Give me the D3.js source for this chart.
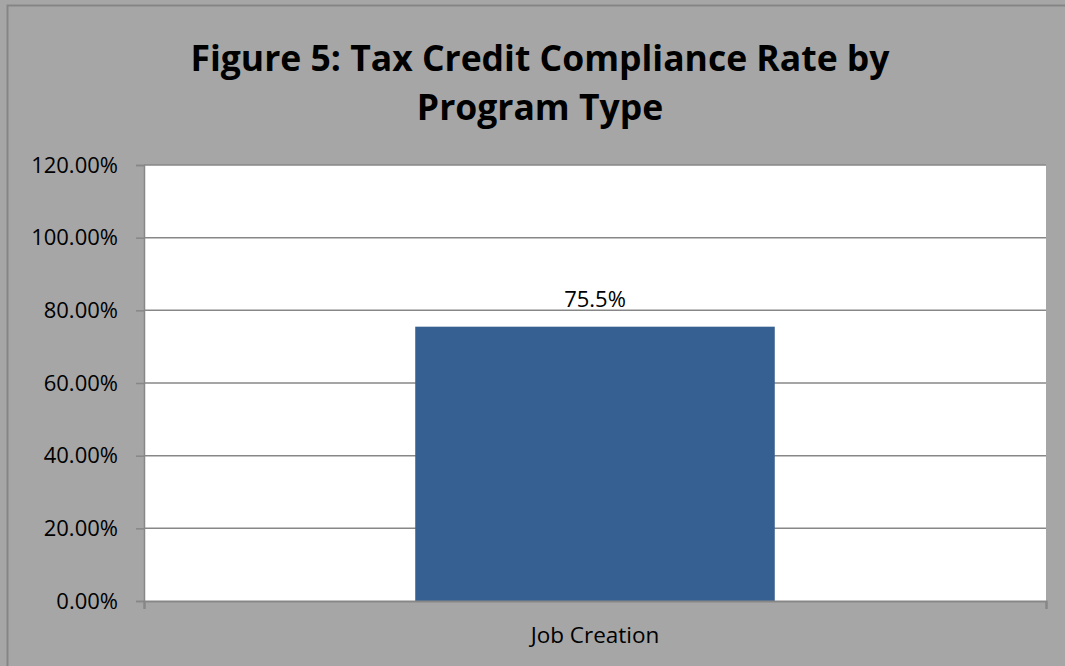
<!DOCTYPE html>
<meta charset="utf-8">
<style>
body { margin: 0; background: #a6a6a6; }
text { font-family: "Open Sans", "Noto Sans", sans-serif; }
.grid line { stroke: #878787; stroke-width: 1.5px; }
</style>
<body>
<script src="https://cdn.jsdelivr.net/npm/d3@7/dist/d3.min.js"></script>
<script>
var categories = ["Job Creation"];
var values = [75.5];
var labels = ["75.5%"];
var yTicks = [0, 20, 40, 60, 80, 100, 120];
var titleLines = ["Figure 5: Tax Credit Compliance Rate by", "Program Type"];

var W = 1065, H = 666;
var margin = {top: 165, right: 19, bottom: 65, left: 144};
var width = W - margin.left - margin.right,
    height = H - margin.top - margin.bottom;

var svg = d3.select("body").append("svg")
    .attr("width", W).attr("height", H);

// chart area background + border
svg.append("rect")
    .attr("x", 7.5).attr("y", 5.5)
    .attr("width", W + 10).attr("height", H + 10)
    .attr("fill", "#a6a6a6")
    .attr("stroke", "#858585").attr("stroke-width", 2);

// title
svg.append("text")
    .attr("text-anchor", "middle")
    .style("font-size", "35.5px").style("font-weight", "bold")
    .selectAll("tspan").data(titleLines).enter().append("tspan")
    .attr("x", 540).attr("y", function(d, i) { return 71 + i * 49; })
    .text(function(d) { return d; });

var g = svg.append("g")
    .attr("transform", "translate(" + margin.left + "," + margin.top + ")");

var x = d3.scaleBand().domain(categories).range([0, width]).padding(0.43);
var y = d3.scaleLinear().domain([0, 120]).range([height, 0]);

g.append("rect")
    .attr("width", width).attr("height", height)
    .attr("fill", "#ffffff");

// gridlines
g.append("g").attr("class", "grid")
    .selectAll("line").data(yTicks.filter(function(d) { return d > 0; }))
    .enter().append("line")
    .attr("x1", 0).attr("x2", width)
    .attr("y1", function(d) { return y(d); })
    .attr("y2", function(d) { return y(d); });

// bars
g.selectAll(".bar").data(values).enter().append("rect")
    .attr("class", "bar")
    .attr("x", function(d, i) { return x(categories[i]); })
    .attr("width", x.bandwidth())
    .attr("y", function(d) { return y(d); })
    .attr("height", function(d) { return height - y(d); })
    .attr("fill", "#376092");

// data labels
g.selectAll(".lbl").data(values).enter().append("text")
    .attr("x", function(d, i) { return x(categories[i]) + x.bandwidth() / 2; })
    .attr("y", function(d) { return y(d) - 20; })
    .attr("text-anchor", "middle")
    .style("font-size", "22px")
    .text(function(d, i) { return labels[i]; });

// y axis
var yAxis = g.append("g")
    .call(d3.axisLeft(y).tickValues(yTicks).tickSize(8).tickPadding(18)
        .tickFormat(function(d) { return d.toFixed(2) + "%"; }));
yAxis.selectAll("line, path").attr("stroke", "#878787").attr("stroke-width", 1.5);
yAxis.selectAll("text").style("font-size", "22px").attr("fill", "#000")
    .style("font-family", "'Open Sans', sans-serif");

// x axis
var xAxis = g.append("g")
    .attr("transform", "translate(0," + height + ")")
    .call(d3.axisBottom(d3.scaleLinear().domain([0, 1]).range([0, width]))
        .tickValues([0, 1]).tickSize(8).tickFormat(""));
xAxis.selectAll("line, path").attr("stroke", "#878787").attr("stroke-width", 2);

g.selectAll(".cat").data(categories).enter().append("text")
    .attr("x", function(d) { return x(d) + x.bandwidth() / 2; })
    .attr("y", height + 42)
    .attr("text-anchor", "middle")
    .style("font-size", "22.5px")
    .text(function(d) { return d; });
</script>
</body>
